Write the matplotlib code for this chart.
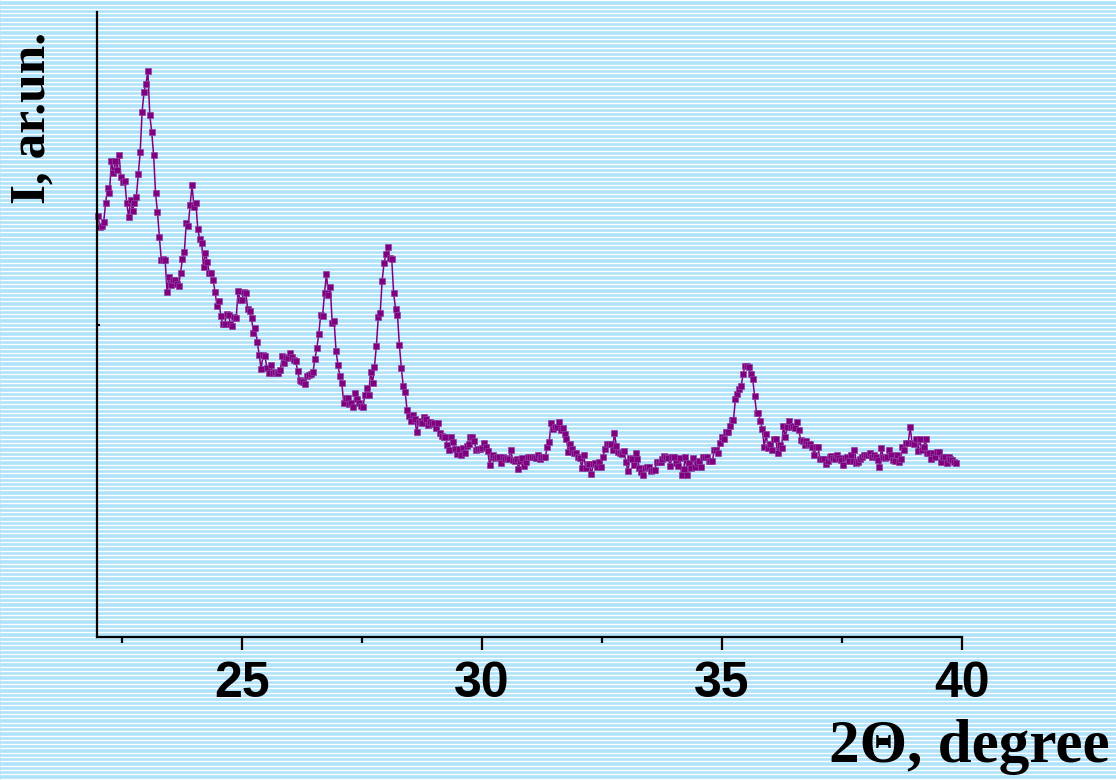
import numpy as np
import matplotlib
matplotlib.use('Agg')
import matplotlib.pyplot as plt

# XRD scan: 2-theta grid (start + step) and intensity (arb. units)
theta_start = 22.0
theta_step = 0.04

intensity = [
    421, 410, 411, 415, 434, 449, 444, 476, 464, 476,
    467, 482, 460, 455, 456, 434, 420, 437, 426, 434,
    440, 463, 485, 525, 545, 553, 566, 522, 505, 482,
    444, 425, 400, 377, 378, 377, 345, 360, 352, 357,
    357, 353, 351, 364, 378, 385, 414, 411, 432, 452,
    430, 434, 408, 398, 394, 370, 384, 375, 364, 364,
    357, 345, 331, 336, 321, 313, 313, 323, 322, 313,
    311, 320, 319, 346, 337, 337, 345, 344, 328, 326,
    319, 304, 309, 295, 282, 268, 282, 281, 269, 264,
    272, 264, 265, 264, 264, 267, 281, 274, 280, 279,
    284, 280, 277, 276, 266, 257, 256, 255, 253, 261,
    262, 263,
    265, 278, 289, 303, 322, 321, 344, 363, 342, 350,
    314, 316, 286, 272, 261, 254, 234, 239, 239, 233,
    234, 230, 244, 238, 234, 231, 230, 242, 249, 242,
    265, 254, 270, 291, 320, 324, 356, 374, 383, 390,
    379, 378, 344, 328, 322, 292, 269, 251, 245, 227,
    221, 216, 222, 218, 205, 215, 216, 214, 220, 218,
    212, 215, 213, 214, 209, 214, 204, 201, 200, 200,
    192, 187, 200, 195, 188, 183, 188, 182, 189, 184,
    191, 193, 200, 200, 196, 187, 188, 188, 189, 194,
    190, 186, 172, 180, 182, 179, 180, 180, 174, 180,
    178, 179, 178, 187, 177, 176, 178, 168, 176, 179,
    171, 175,
    180, 180, 180, 180, 179, 182, 178, 180, 180, 180,
    190, 195, 214, 208, 210, 210, 215, 207, 209, 203,
    198, 185, 193, 188, 184, 184, 180, 179, 169, 182,
    169, 173, 173, 163, 173, 174, 170, 175, 170, 180,
    188, 193, 193, 193, 187, 204, 191, 185, 184, 183,
    186, 175, 166, 179, 178, 172, 184, 178, 169, 165,
    162, 169, 170, 170, 166, 167, 167, 175, 175, 175,
    178, 181, 180, 179, 171, 180, 180, 174, 171, 179,
    162, 168, 180, 162, 174, 169, 179, 170, 174, 176,
    170, 180, 180, 180, 176, 176, 176, 187, 187, 184,
    194, 200, 198, 205, 205, 211, 217, 217, 238, 243,
    248, 251, 263, 271,
    271, 270, 263, 258, 241, 224, 224, 216, 208, 190,
    203, 189, 193, 187, 198, 198, 184, 192, 189, 211,
    200, 210, 216, 210, 211, 209, 215, 207, 197, 196,
    192, 196, 193, 193, 190,
    182, 190, 190, 178, 178, 178, 173, 176, 180, 181,
    179, 178, 182, 179, 177, 172, 179, 180, 176, 182,
    176, 187, 174, 175, 178, 180, 182, 182, 182, 184,
    180, 182, 180, 177, 170, 189, 180, 179, 180, 187,
    182, 177, 176, 182, 175, 178, 190, 187, 194, 194,
    210, 194, 193, 198, 186, 198, 187, 190, 198, 184,
    184, 178, 184, 180, 185, 185, 175, 180, 180, 174,
    180, 178, 177, 175, 174,
]
two_theta = theta_start + theta_step * np.arange(len(intensity))

x_major = [25, 30, 35, 40]
x_minor = [22.5, 27.5, 32.5, 37.5]
y_ticks = [312]

fig = plt.figure(figsize=(11.16, 7.8), dpi=100)
fig.patch.set_facecolor('#b0e2fa')

# striped background
bg = fig.add_axes([0, 0, 1, 1], zorder=0)
bg.set_xlim(0, 1)
bg.set_ylim(0, 780)
bg.hlines(np.arange(1.5, 780, 4.3), 0, 1, colors='white', lw=1.0)
bg.axis('off')

ax = fig.add_axes([0.0869, 0.1833, 0.7751, 0.8013], zorder=1)
ax.patch.set_alpha(0)

ax.plot(two_theta, intensity, color='#800080', lw=1.1, marker='s', ms=4.6,
        mfc='#800080', mec='#9040a0', mew=0.5, clip_on=False)

ax.set_xlim(21.98, 40.0)
ax.set_ylim(0, 625)

for s in ['top', 'right']:
    ax.spines[s].set_visible(False)
for s in ['left', 'bottom']:
    ax.spines[s].set_linewidth(1.6)

ax.set_xticks(x_major)
ax.set_xticks(x_minor, minor=True)
ax.set_yticks(y_ticks)
ax.set_yticklabels([])
ax.tick_params(axis='x', which='major', direction='out', length=9, width=1.6, pad=8,
               labelsize=36)
ax.tick_params(axis='x', which='minor', direction='out', length=4.5, width=1.6)
ax.tick_params(axis='y', direction='in', length=2, width=1.6)
for lab in ax.get_xticklabels():
    lab.set_fontfamily(['Liberation Sans', 'DejaVu Sans'])
    lab.set_fontweight('bold')

fig.text(0.994, 0.006, '2\u0398, degree', ha='right', va='bottom', fontsize=44,
         fontweight='bold', family=['Liberation Serif', 'DejaVu Serif'])
fig.text(0.029, 0.849, 'I, ar.un.', ha='center', va='center', rotation=90, fontsize=37,
         fontweight='bold', family=['Liberation Serif', 'DejaVu Serif'])

fig.savefig('out.png', dpi=100, facecolor=fig.get_facecolor())
